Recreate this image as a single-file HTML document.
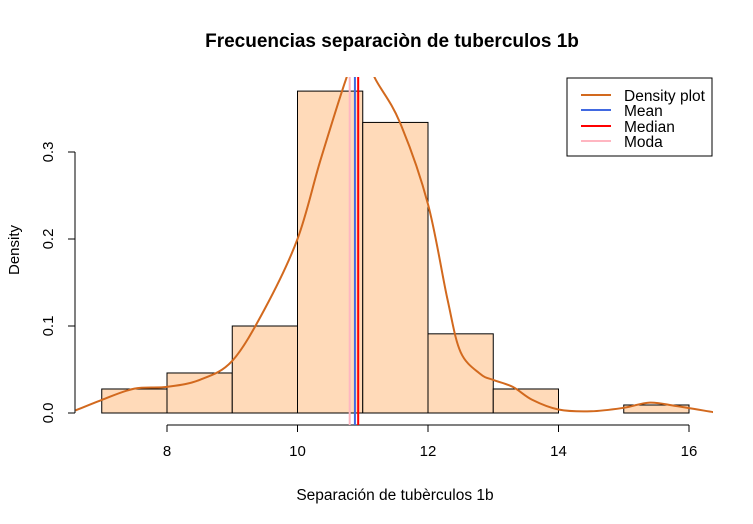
<!DOCTYPE html>
<html><head><meta charset="utf-8"><style>
body{margin:0;background:#fff}
svg{display:block;font-family:"Liberation Sans",Arial,sans-serif}
</style></head><body>
<svg width="753" height="524" viewBox="0 0 753 524">
<defs><clipPath id="pc"><rect x="75" y="77" width="638" height="348"/></clipPath></defs>
<text x="392" y="47" text-anchor="middle" font-size="19" font-weight="bold">Frecuencias separaciòn de tuberculos 1b</text>
<text x="395" y="500" text-anchor="middle" font-size="15.5">Separación de tubèrculos 1b</text>
<text transform="translate(19,250) rotate(-90)" text-anchor="middle" font-size="15">Density</text>
<g id="bars"></g>
<g id="axes"></g>
<g id="marks" clip-path="url(#pc)"></g>
<g>
<rect x="567" y="78" width="145" height="78" fill="#fff" stroke="#000"/>
<line x1="581" x2="611" y1="95" y2="95" stroke="#D2691E" stroke-width="2"/>
<line x1="581" x2="611" y1="110" y2="110" stroke="#4169E1" stroke-width="2"/>
<line x1="581" x2="611" y1="126" y2="126" stroke="#FF0000" stroke-width="2"/>
<line x1="581" x2="611" y1="141" y2="141" stroke="#FFB6C1" stroke-width="2"/>
<text x="624" y="101" font-size="15.5">Density plot</text>
<text x="624" y="116" font-size="15.5">Mean</text>
<text x="624" y="132" font-size="15.5">Median</text>
<text x="624" y="147" font-size="15.5">Moda</text>
</g>
</svg>
<script>
const binEdges=[7,8,9,10,11,12,13,14,15,16];
const binDensity=[0.0276,0.046,0.1,0.37,0.334,0.091,0.0276,0,0.0092];
const xTicks=[8,10,12,14,16];
const yTicks=[0,0.1,0.2,0.3];
const yTickLabels=["0.0","0.1","0.2","0.3"];
const densX=[6.6,7,7.5,8,8.5,9,9.5,10,10.35,10.74,10.95,11.2,11.57,12,12.3,12.5,12.8,13,13.3,13.6,14,14.5,15,15.4,15.8,16.37];
const densY=[0.003,0.015,0.028,0.03,0.038,0.06,0.12,0.2,0.29,0.383,0.42,0.383,0.334,0.24,0.13,0.07,0.045,0.038,0.03,0.015,0.004,0.002,0.006,0.012,0.008,0.001];
const statNames=["moda","mean","median"];
const statValues=[10.8,10.88,10.93];
const statColors=["#FFB6C1","#4169E1","#FF0000"];
const X=v=>167+(v-8)*65.25;
const Y=v=>413-v*870;
const NS="http://www.w3.org/2000/svg";
function mk(t,a,p){const e=document.createElementNS(NS,t);for(const k in a)e.setAttribute(k,a[k]);p.appendChild(e);return e;}
const bars=document.getElementById('bars'),axes=document.getElementById('axes'),marks=document.getElementById('marks');
binDensity.forEach((d,i)=>{
 const r=mk('rect',{x:X(binEdges[i]),y:Y(d),width:X(binEdges[i+1])-X(binEdges[i]),height:Y(0)-Y(d),fill:'#FFDAB9',stroke:'#000','stroke-width':1},bars);
 
 
});
mk('line',{x1:X(xTicks[0]),x2:X(xTicks[xTicks.length-1]),y1:425,y2:425,stroke:'#000'},axes);
xTicks.forEach(t=>{
 mk('line',{x1:X(t),x2:X(t),y1:425,y2:432,stroke:'#000'},axes);
 const tx=mk('text',{x:X(t),y:456,'text-anchor':'middle','font-size':15},axes);
 tx.textContent=t;
 
 
});
mk('line',{x1:75,x2:75,y1:Y(yTicks[0]),y2:Y(yTicks[yTicks.length-1]),stroke:'#000'},axes);
yTicks.forEach((t,i)=>{
 mk('line',{x1:68,x2:75,y1:Y(t),y2:Y(t),stroke:'#000'},axes);
 const tx=mk('text',{transform:`translate(53,${Y(t)}) rotate(-90)`,'text-anchor':'middle','font-size':15},axes);
 tx.textContent=yTickLabels[i];
 
 
});
statValues.forEach((v,i)=>{
 const l=mk('line',{x1:X(v),x2:X(v),y1:77,y2:425,stroke:statColors[i],'stroke-width':2},marks);
 
 
});
const P=densX.map((x,i)=>[X(x),Y(densY[i])]);
let d='M'+P[0][0].toFixed(1)+','+P[0][1].toFixed(1);
for(let i=0;i<P.length-1;i++){
 const p0=P[Math.max(0,i-1)],p1=P[i],p2=P[i+1],p3=P[Math.min(P.length-1,i+2)];
 const c1=[p1[0]+(p2[0]-p0[0])/6,p1[1]+(p2[1]-p0[1])/6];
 const c2=[p2[0]-(p3[0]-p1[0])/6,p2[1]-(p3[1]-p1[1])/6];
 d+=`C${c1[0].toFixed(1)},${c1[1].toFixed(1)} ${c2[0].toFixed(1)},${c2[1].toFixed(1)} ${p2[0].toFixed(1)},${p2[1].toFixed(1)}`;
}
const p=mk('path',{d:d,fill:'none',stroke:'#D2691E','stroke-width':2,'stroke-linejoin':'round'},marks);


</script>
</body></html>
